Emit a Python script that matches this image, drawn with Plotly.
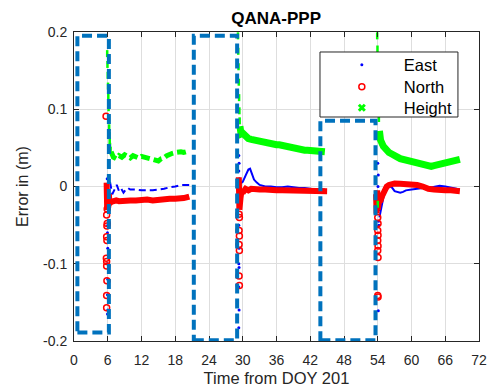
import plotly.graph_objects as go

# ---------------- data ----------------
x_ticks = [0, 6, 12, 18, 24, 30, 36, 42, 48, 54, 60, 66, 72]
y_ticks = [-0.2, -0.1, 0, 0.1, 0.2]
y_tick_text = ["-0.2", "-0.1", "0", "0.1", "0.2"]

# East error, converged parts of the three sessions
t_e1 = [6.4, 6.8, 7.2, 7.6, 8.0, 8.4, 8.8, 9.2, 9.6, 10, 11, 12, 13, 14, 15, 16, 17, 18, 19, 20, 20.5]
e1 = [0.006, -0.010, -0.004, 0.002, -0.006, -0.003, -0.008, -0.004, -0.002, -0.004, -0.004, -0.005,
      -0.005, -0.005, -0.004, -0.003, -0.001, 0.000, 0.002, 0.002, 0.002]
t_e2 = [29.6, 30.0, 30.5, 31.0, 31.3, 31.6, 32.0, 32.5, 33.0, 34, 35, 36, 37, 38, 39, 40, 41, 42, 43, 44, 44.6]
e2 = [0.004, 0.006, 0.014, 0.022, 0.023, 0.017, 0.009, 0.005, 0.002, 0.000, 0.000, -0.001, -0.001,
      0.000, -0.001, -0.002, -0.002, -0.003, -0.004, -0.004, -0.004]
t_e3 = [54.3, 54.7, 55.0, 55.4, 55.8, 56.2, 56.6, 57.0, 57.5, 58, 58.5, 59, 60, 61, 62, 63, 64, 65, 66, 67, 68, 68.6]
e3 = [-0.040, -0.025, -0.014, -0.006, -0.002, 0.000, -0.002, -0.006, -0.007, -0.008, -0.007, -0.005,
      -0.004, -0.003, -0.002, -0.002, 0.000, 0.001, 0.000, -0.002, -0.003, -0.004]
# East error during re-convergence
t_es = [5.9, 5.95, 6.0, 5.95, 6.0, 5.95, 6.0, 5.95, 6.0, 5.95,
        29.3, 29.35, 29.3, 29.4, 29.35, 29.3, 29.35, 29.3, 29.35, 29.3, 29.35, 29.3,
        54.0, 54.1, 54.05, 54.15, 54.1, 54.2, 54.15, 54.2, 54.1]
es = [0.010, -0.020, -0.050, -0.060, -0.080, -0.100, -0.120, -0.140, -0.160, -0.165,
      0.040, 0.030, 0.020, 0.010, -0.020, -0.050, -0.080, -0.100, -0.105, -0.130, -0.160, -0.183,
      0.030, 0.015, 0.000, -0.010, -0.020, -0.030, -0.045, -0.050, -0.161]

# North error
t_n1 = [5.8, 5.9, 6.0, 6.1, 6.2, 6.3, 6.6, 7.0, 7.5, 8, 9, 10, 11, 12, 13, 14, 15, 16, 17, 18, 19, 19.5, 20, 20.5]
n1 = [0.005, -0.030, 0.002, -0.026, -0.010, -0.022, -0.020, -0.019, -0.018, -0.019, -0.018, -0.018,
      -0.018, -0.017, -0.017, -0.018, -0.017, -0.017, -0.016, -0.016, -0.016, -0.015, -0.014, -0.013]
t_n2 = [29.3, 29.4, 29.5, 29.6, 29.8, 30.0, 30.5, 31, 31.5, 32, 33, 34, 35, 36, 37, 38, 39, 40, 41, 42, 43, 44, 45]
n2 = [0.012, -0.030, 0.008, -0.015, -0.004, -0.008, -0.003, -0.005, -0.003, -0.004, -0.004, -0.004,
      -0.005, -0.005, -0.005, -0.005, -0.005, -0.005, -0.005, -0.005, -0.005, -0.006, -0.006]
t_n3 = [53.7, 53.8, 53.9, 54.0, 54.2, 54.5, 54.8, 55.2, 55.6, 56.0, 56.5, 57, 58, 59, 60, 61, 62, 62.5,
        63, 64, 65, 66, 67, 68, 68.6]
n3 = [-0.010, -0.035, -0.005, -0.030, -0.020, -0.018, -0.012, -0.005, 0.000, 0.002, 0.004, 0.004,
      0.0035, 0.003, 0.003, 0.002, 0.000, -0.002, -0.003, -0.004, -0.005, -0.005, -0.005, -0.005, -0.006]
t_ns = [5.7, 5.9, 5.8, 5.9, 5.85, 5.8, 5.85, 5.75, 5.8, 5.8, 5.85, 5.8, 5.8,
        29.35, 29.4, 29.35, 29.4, 29.35, 29.4, 29.35, 29.4,
        54.0, 54.05, 54.0, 54.05, 54.0, 54.05, 54.0, 54.05, 54.0, 54.05]
ns = [0.091, -0.029, -0.037, -0.048, -0.051, -0.065, -0.070, -0.093, -0.097, -0.103, -0.122, -0.141, -0.157,
      -0.036, -0.040, -0.057, -0.064, -0.075, -0.083, -0.116, -0.128,
      -0.040, -0.048, -0.057, -0.063, -0.070, -0.077, -0.083, -0.092, -0.141, -0.143]

# Height error
t_h1 = [6.6, 7.0, 7.5, 8.0, 8.5, 9.0, 9.5, 10.0, 10.5, 11.0, 11.5, 12.0, 12.5, 13.0, 13.5, 14.0, 14.5,
        15.0, 15.5, 16.0, 16.5, 17.0, 17.5, 18.0, 18.5, 19.0, 19.5, 20.0, 20.5]
h1 = [0.045, 0.038, 0.036, 0.040, 0.038, 0.041, 0.039, 0.037, 0.040, 0.039, 0.037, 0.039, 0.038, 0.037,
      0.036, 0.035, 0.034, 0.033, 0.036, 0.037, 0.040, 0.042, 0.043, 0.044, 0.045, 0.045, 0.044, 0.045, 0.046]
t_h2 = [29.5, 29.7, 30.0, 30.5, 31.0, 31.5, 32.0, 32.5, 33.0, 33.5, 34.0, 34.5, 35.0, 35.5, 36.0, 36.5,
        37.0, 37.5, 38.0, 38.5, 39.0, 39.5, 40.0, 40.5, 41.0, 41.5, 42.0, 42.5, 43.0, 43.5, 44.0, 44.6]
h2 = [0.078, 0.068, 0.069, 0.064, 0.062, 0.061, 0.060, 0.059, 0.059, 0.058, 0.057, 0.057, 0.056, 0.055,
      0.054, 0.054, 0.053, 0.052, 0.051, 0.050, 0.049, 0.049, 0.048, 0.048, 0.047, 0.047, 0.047, 0.046,
      0.046, 0.045, 0.045, 0.045]
t_h3 = [54.3, 54.5, 55.0, 55.5, 56.0, 56.5, 57.0, 57.5, 58.0, 58.5, 59.0, 59.5, 60.0, 60.5, 61.0, 61.5,
        62.0, 62.5, 63.0, 63.5, 64.0, 64.5, 65.0, 65.5, 66.0, 66.5, 67.0, 67.5, 68.0, 68.6]
h3 = [0.072, 0.060, 0.052, 0.047, 0.044, 0.042, 0.039, 0.038, 0.036, 0.035, 0.034, 0.033, 0.031, 0.030,
      0.029, 0.028, 0.027, 0.026, 0.0255, 0.026, 0.027, 0.028, 0.030, 0.030, 0.031, 0.032, 0.032, 0.033,
      0.034, 0.035]
t_hs = [5.9, 5.95, 6.0, 6.05, 6.1, 6.15, 6.2, 6.25, 6.3, 6.35, 6.4, 6.5,
        29.15, 29.2, 29.25, 29.3, 29.35, 29.4, 29.45,
        53.9, 53.95, 54.0, 54.05, 54.1, 54.15, 54.2, 54.0]
hs = [0.172, 0.158, 0.144, 0.130, 0.116, 0.102, 0.088, 0.076, 0.066, 0.058, 0.052, 0.047,
      0.195, 0.175, 0.155, 0.135, 0.115, 0.098, 0.085,
      0.195, 0.178, 0.160, 0.142, 0.124, 0.106, 0.088, -0.023]

# Data-gap windows (x0, x1, y0, y1)
gap_x0 = [0.6, 21.3, 43.8]
gap_x1 = [6.2, 29.0, 53.6]
gap_y0 = [-0.189, -0.199, -0.199]
gap_y1 = [0.195, 0.195, 0.085]

BLUE, RED, GREEN, BOX = "#0000ff", "#ff0000", "#00ff00", "#0072BD"
FONT = "Liberation Sans, Arial, sans-serif"

fig = go.Figure()

# East
fig.add_trace(go.Scatter(x=t_e1, y=e1, mode="lines", line=dict(color=BLUE, width=2, dash="7px,4px"),
                         showlegend=False, hoverinfo="skip"))
for tx, vy in [(t_e2, e2), (t_e3, e3)]:
    fig.add_trace(go.Scatter(x=tx, y=vy, mode="lines", line=dict(color=BLUE, width=2),
                             showlegend=False, hoverinfo="skip"))
fig.add_trace(go.Scatter(x=t_es, y=es, mode="markers", marker=dict(color=BLUE, size=3),
                         showlegend=False, hoverinfo="skip"))

# North
for tx, vy in [(t_n1, n1), (t_n2, n2), (t_n3, n3)]:
    fig.add_trace(go.Scatter(x=tx, y=vy, mode="lines", line=dict(color=RED, width=6),
                             showlegend=False, hoverinfo="skip"))
fig.add_trace(go.Scatter(x=t_ns, y=ns, mode="markers",
                         marker=dict(symbol="circle-open", color=RED, size=6, line=dict(width=1.5)),
                         showlegend=False, hoverinfo="skip"))

# Height
fig.add_trace(go.Scatter(x=t_h1, y=h1, mode="lines", line=dict(color=GREEN, width=5, dash="9px,4px"),
                         showlegend=False, hoverinfo="skip"))
for tx, vy in [(t_h2, h2), (t_h3, h3)]:
    fig.add_trace(go.Scatter(x=tx, y=vy, mode="lines", line=dict(color=GREEN, width=7),
                             showlegend=False, hoverinfo="skip"))
fig.add_trace(go.Scatter(x=t_hs, y=hs, mode="markers",
                         marker=dict(symbol="line-ns-open", color=GREEN, size=5, line=dict(width=2.5, color=GREEN)),
                         showlegend=False, hoverinfo="skip"))

# Legend entries, one legend per entry so each row can be placed exactly
fig.add_trace(go.Scatter(x=[None], y=[None], mode="markers", name="East", legend="legend",
                         marker=dict(color=BLUE, size=3)))
fig.add_trace(go.Scatter(x=[None], y=[None], mode="markers", name="North", legend="legend2",
                         marker=dict(symbol="circle-open", color=RED, size=6, line=dict(width=1.5))))
fig.add_trace(go.Scatter(x=[None], y=[None], mode="markers", name="Height", legend="legend3",
                         marker=dict(symbol="x-thin-open", color=GREEN, size=6, line=dict(width=3, color=GREEN))))

# Gap windows
for x0, x1, y0, y1 in zip(gap_x0, gap_x1, gap_y0, gap_y1):
    fig.add_shape(type="rect", x0=x0, x1=x1, y0=y0, y1=y1, xref="x", yref="y",
                  line=dict(color=BOX, width=4, dash="10px,5px"), layer="above")

# Legend frame (white panel over the data, legend entries are drawn on top of it)
fig.add_shape(type="rect", xref="paper", yref="paper", x0=0.6074, x1=0.948, y0=0.7249, y1=0.9353,
              fillcolor="white", line=dict(color="#262626", width=1), layer="above")

axis_common = dict(showline=True, linecolor="#262626", linewidth=1, mirror="ticks",
                   ticks="inside", ticklen=5, tickcolor="#262626", automargin=False,
                   showgrid=True, gridcolor="#dedede", gridwidth=1, zeroline=False,
                   tickfont=dict(family=FONT, size=14, color="#262626"))

legend_common = dict(x=0.607, xanchor="left", yanchor="middle", bgcolor="rgba(0,0,0,0)",
                     borderwidth=0, itemwidth=74,
                     font=dict(family=FONT, size=16.5, color="#000000"))

fig.update_layout(
    width=491, height=392,
    margin=dict(l=74, r=12, t=32, b=51, autoexpand=False),
    paper_bgcolor="white", plot_bgcolor="white",
    font=dict(family=FONT, color="#262626"),
    title=dict(text="<b>QANA-PPP</b>", x=0.5625, xanchor="center", y=0.955, yanchor="middle",
               font=dict(family=FONT, size=17, color="#000000")),
    xaxis=dict(range=[0, 72], tickvals=x_ticks, ticklabelstandoff=6,
               title=dict(text="Time from DOY 201", font=dict(family=FONT, size=16.5, color="#262626"), standoff=5),
               **axis_common),
    yaxis=dict(range=[-0.2, 0.2], tickvals=y_ticks, ticktext=y_tick_text, ticklabelstandoff=3,
               title=dict(text="Error in (m)", font=dict(family=FONT, size=16, color="#262626"), standoff=10),
               **axis_common),
    legend=dict(y=0.8932, **legend_common),
    legend2=dict(y=0.8220, **legend_common),
    legend3=dict(y=0.7540, **legend_common),
)

fig.write_html("out.html")
